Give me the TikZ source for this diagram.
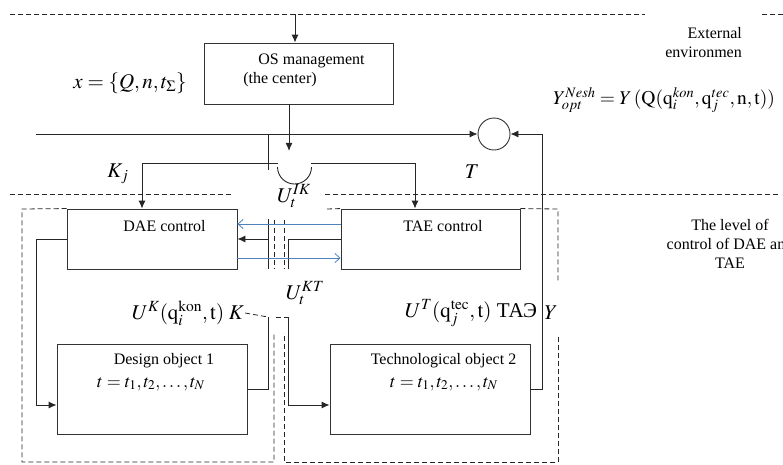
\documentclass[tikz,border=0pt]{standalone}
\usepackage{mathptmx}
\usepackage{fontspec}
\setmainfont{Liberation Serif}
\usetikzlibrary{arrows.meta,positioning,calc}

\definecolor{linkblue}{RGB}{79,129,189}

\begin{document}
\begin{tikzpicture}[x=1pt,y=-1pt,
    every node/.style={font=\fontsize{16}{19}\selectfont,inner sep=1pt},
    eq/.style={font=\fontsize{21}{24}\selectfont},
    teq/.style={font=\fontsize{18}{21}\selectfont},
    blk/.style={draw=black!80,line width=0.9pt,inner sep=0pt},
    wire/.style={draw=black!85,line width=0.9pt},
    feed/.style={wire,-{Latex[length=8pt,width=7pt]}},
    lvl/.style={draw=black!85,line width=0.8pt,dash pattern=on 5pt off 3pt},
    msg/.style={draw=linkblue,line width=0.8pt,-{Straight Barb[length=5pt,width=9pt]}}]
    \useasboundingbox (0,0) rectangle (783,464);

    % Levels
    \draw[lvl] (10,14) -- (645,14);
    \draw[lvl] (762,14) -- (783,14);
    \draw[lvl] (10,194) -- (233,194);
    \draw[lvl] (325,194) -- (778,194);

    % Blocks
    \node[blk,minimum width=189pt,minimum height=61pt] (os) at (298.5,73.5) {};
    \node[blk,minimum width=170pt,minimum height=60pt] (dae) at (152,239) {};
    \node[blk,minimum width=179pt,minimum height=60pt] (tae) at (430.5,239) {};
    \node[blk,minimum width=190pt,minimum height=90pt] (des) at (152,389) {};
    \node[blk,minimum width=200pt,minimum height=90pt] (tech) at (430,389) {};
    \node[draw=black!80,line width=0.9pt,circle,minimum size=32pt] (sum) at (494,134) {};

    \node (ostxt) at (311.5,61) {OS management};
    \node (cntr) at (280,80) {(the center)};
    \node (daetxt) at (164.5,226) {DAE control};
    \node (taetxt) at (443,226) {TAE control};
    \node (destxt) at (164,361) {Design object 1};
    \node[teq] (destm) at (151,384) {$t=t_1,t_2,\ldots,t_N$};
    \node (techtxt) at (443.5,361) {Technological object 2};
    \node[teq] (techtm) at (444,384) {$t=t_1,t_2,\ldots,t_N$};

    % Dashed frames of the DAE/TAE level
    \draw[lvl] (dae.north west) -- (22,209) -- (22,462) -- (274,462) -- (274,333);
    \draw[lvl] (274,220) -- (274,269);
    \draw[lvl] (tae.north east) -- (558,209) -- (558,282);
    \draw[lvl] (558,337) -- (558,462) -- (284,462) -- (284,333);
    \draw[lvl] (284,220) -- (284,269);
    \draw[lvl] (327,209) -- (tae.north west);

    % Input and the center
    \coordinate (in) at (295,14);
    \draw[feed] (in) -- (in |- os.north);
    \coordinate (hop) at (294.5,167);
    \coordinate (osdn) at (289,150.9);
    \draw[feed] (os.south -| osdn) -- (osdn);
    \draw[wire] ($(hop)+(-17,0)$) arc[start angle=180,end angle=0,radius=17];
    \coordinate (kl) at (142,163);
    \coordinate (kr) at (415,163);
    \draw[feed] ($(hop)+(-16.5,-4)$) -- (kl) -- (kl |- dae.north);
    \draw[feed] ($(hop)+(16.5,-4)$) -- (kr) -- (kr |- tae.north);

    % Main line and feedback
    \coordinate (xin) at (36,134);
    \draw[feed] (xin) -- (sum.west);
    \coordinate (yr) at (542,134);
    \draw[feed] (tech.east) -- (tech.east -| yr) -- (yr) -- (sum.east);
    \coordinate (tap) at (268,134);
    \draw[wire] (tap) -- ++(0,36);
    \coordinate (ik) at (268,219);
    \draw[wire] (ik) -- ++(0,50);
    \draw[feed] (ik |- dae.east) -- (dae.east);

    % DAE -> design object -> back
    \coordinate (dl) at (36,405);
    \draw[feed] (dae.west) -- (dae.west -| dl) -- (dl) -- (dl -| des.west);
    \coordinate (dk) at (268,317);
    \draw[wire] (des.east) -- (des.east -| dk) -- (dk);

    % TAE -> technological object
    \coordinate (tk) at (288,269);
    \draw[wire] (tae.west) -- (tae.west -| tk) -- (tk);
    \coordinate (tt) at (288,317);
    \coordinate (tl) at (288,405);
    \draw[feed] (tt) -- (tl) -- (tl -| tech.west);
    \coordinate (tdash) at (276,317);
    \draw[lvl] (tdash) -- (tt);

    % Exchange between DAE and TAE
    \draw[msg] ($(tae.west)+(0,-15)$) -- ($(dae.east)+(0,-15)$);
    \draw[msg] ($(dae.east)+(0,19)$) -- ($(tae.west)+(0,19)$);

    % Labels
    \node[eq] (xset) at (130,83) {$x=\{Q,n,t_\Sigma\}$};
    \node[eq] (kj) at (118,174) {$K_j$};
    \node[eq] (tlab) at (472,172) {$T$};
    \node[eq] (uik) at (294,196) {$U_t^{IK}$};
    \node[eq] (ukt) at (305,293) {$U_t^{KT}$};
    \node[eq] (uk) at (188,313) {$U^K(\mathrm{q}_i^{\mathrm{kon}},\mathrm{t})\;K$};
    \draw[lvl] (uk.east) -- (dk);
    \node[eq] (ut) at (471,313) {$U^T(\mathrm{q}_j^{\mathrm{tec}},\mathrm{t})$ ТАЭ};
    \node[eq] (ylab) at (551,313) {$Y$};
    \node[font=\fontsize{19.5}{23}\selectfont] (yopt) at (664,100) {$Y_{opt}^{Nesh}=Y\,(\mathrm{Q}(\mathrm{q}_i^{kon},\mathrm{q}_j^{tec},\mathrm{n},\mathrm{t}))$};
    \node[align=right,anchor=east] (ext) at (743,43) {External\\environmen};
    \node[align=center] (lev) at (730,244) {The level of\\control of DAE and\\TAE};
\end{tikzpicture}
\end{document}
